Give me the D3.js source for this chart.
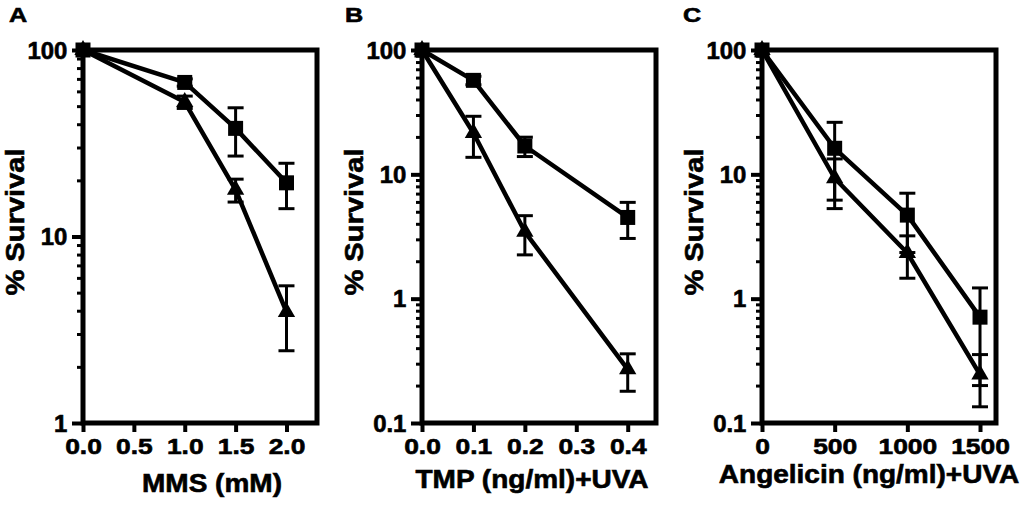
<!DOCTYPE html>
<html>
<head>
<meta charset="utf-8">
<script src="https://cdn.jsdelivr.net/npm/d3@7"></script>
<style>
  html, body { margin: 0; padding: 0; background: #fff; }
  svg { display: block; font-family: "Liberation Sans", Arial, Helvetica, sans-serif; font-weight: bold; }
  text { stroke: #000; stroke-width: 0.6px; fill: #000; }
</style>
</head>
<body>
<svg id="chart" width="1026" height="508"></svg>
<script>
// ---------- DATA ----------
const panelLetters = ["A", "B", "C"];
const xTitles = ["MMS (mM)", "TMP (ng/ml)+UVA", "Angelicin (ng/ml)+UVA"];
const yTitle = "% Survival";

// Panel A: MMS
const mmsDose = [0, 1.0, 1.5, 2.0];
const mmsSquare = [100, 67, 38, 19.4];
const mmsSquareSD = [0, 3, 11, 5.3];
const mmsTriangle = [100, 52.6, 17.8, 3.94];
const mmsTriangleSD = [0, 4, 2.5, 1.5];

// Panel B: TMP + UVA
const tmpDose = [0, 0.1, 0.2, 0.4];
const tmpSquare = [100, 57, 16.9, 4.5];
const tmpSquareSD = [0, 4.5, 3.0, 1.45];
const tmpTriangle = [100, 21.5, 3.45, 0.27];
const tmpTriangleSD = [0, 7.8, 1.2, 0.09];

// Panel C: Angelicin + UVA
const angDose = [0, 500, 1000, 1500];
const angSquare = [100, 16.2, 4.7, 0.71];
const angSquareSD = [0, 10, 2.35, 0.51];
const angTriangle = [100, 9.3, 2.33, 0.245];
const angTriangleSD = [0, 4, 0.87, 0.11];

// Tick labels
const mmsXTicks = [0, 0.5, 1.0, 1.5, 2.0];
const tmpXTicks = [0, 0.1, 0.2, 0.3, 0.4];
const angXTicks = [0, 500, 1000, 1500];
const yTicksA = [1, 10, 100];
const yTicksBC = [0.1, 1, 10, 100];

// ---------- LAYOUT ----------
const panels = [
  { letter: panelLetters[0], xTitle: xTitles[0], dose: mmsDose,
    sq: mmsSquare, sqSD: mmsSquareSD, tri: mmsTriangle, triSD: mmsTriangleSD,
    xTicks: mmsXTicks, xFmt: d3.format(".1f"), yTicks: yTicksA, yDomain: [1, 100],
    xDomain: [0, 2.3], left: 83, right: 317, letterX: 9, titleX: 212, titleY: 492 },
  { letter: panelLetters[1], xTitle: xTitles[1], dose: tmpDose,
    sq: tmpSquare, sqSD: tmpSquareSD, tri: tmpTriangle, triSD: tmpTriangleSD,
    xTicks: tmpXTicks, xFmt: d3.format(".1f"), yTicks: yTicksBC, yDomain: [0.1, 100],
    xDomain: [0, 0.455], left: 422, right: 656, letterX: 345, titleX: 532, titleY: 488 },
  { letter: panelLetters[2], xTitle: xTitles[2], dose: angDose,
    sq: angSquare, sqSD: angSquareSD, tri: angTriangle, triSD: angTriangleSD,
    xTicks: angXTicks, xFmt: d3.format("d"), yTicks: yTicksBC, yDomain: [0.1, 100],
    xDomain: [0, 1610], left: 762, right: 996, letterX: 683, titleX: 869, titleY: 483 }
];
const plotTop = 50, plotBottom = 423;

const svg = d3.select("#chart");
const yFmt = d => (d < 1 ? d3.format(".1f")(d) : d3.format("d")(d));
const FONT = "'Liberation Sans', Arial, sans-serif";

panels.forEach(p => {
  const g = svg.append("g");
  const x = d3.scaleLinear().domain(p.xDomain).range([p.left, p.right]);
  const y = d3.scaleLog().domain(p.yDomain).range([plotBottom, plotTop]);

  // minor log ticks
  const minors = [];
  for (let dec = p.yDomain[0]; dec < p.yDomain[1] - 1e-9; dec *= 10) {
    for (let k = 2; k <= 9; k++) minors.push(+(dec * k).toPrecision(3));
  }
  const minorAxis = g.append("g")
    .attr("transform", `translate(${p.left},0)`)
    .call(d3.axisLeft(y).tickValues(minors).tickSize(6).tickFormat(""));
  minorAxis.select(".domain").remove();
  minorAxis.selectAll(".tick line").attr("stroke", "#000").attr("stroke-width", 3);

  const yAxis = g.append("g")
    .attr("transform", `translate(${p.left},0)`)
    .call(d3.axisLeft(y).tickValues(p.yTicks).tickSize(11).tickPadding(4).tickFormat(yFmt));
  yAxis.select(".domain").remove();
  yAxis.selectAll(".tick line").attr("stroke", "#000").attr("stroke-width", 4);
  yAxis.selectAll(".tick text")
    .style("font-size", "23px")
    .style("font-weight", "bold")
    .style("font-family", FONT)
    .attr("dy", "0.36em")
    .attr("transform", "scale(1.04,1)");

  const xAxis = g.append("g")
    .attr("transform", `translate(0,${plotBottom})`)
    .call(d3.axisBottom(x).tickValues(p.xTicks).tickSize(9).tickPadding(6).tickFormat(p.xFmt));
  xAxis.select(".domain").remove();
  xAxis.selectAll(".tick line").attr("stroke", "#000").attr("stroke-width", 4);
  xAxis.selectAll(".tick text")
    .style("font-size", "22px")
    .style("font-weight", "bold")
    .style("font-family", FONT)
    .attr("transform", "scale(1.2,1)");

  // frame
  g.append("rect")
    .attr("x", p.left).attr("y", plotTop)
    .attr("width", p.right - p.left).attr("height", plotBottom - plotTop)
    .attr("fill", "none").attr("stroke", "#000").attr("stroke-width", 5);

  // lines
  const line = d3.line().x((d, i) => x(p.dose[i])).y(d => y(d));
  [p.sq, p.tri].forEach(vals => {
    g.append("path").datum(vals)
      .attr("d", line)
      .attr("fill", "none").attr("stroke", "#000").attr("stroke-width", 4.5)
      .attr("stroke-linejoin", "round");
  });

  // error bars
  const cap = 8;
  [[p.sq, p.sqSD], [p.tri, p.triSD]].forEach(([vals, sds]) => {
    vals.forEach((v, i) => {
      if (!sds[i]) return;
      const cx = x(p.dose[i]);
      const yHi = y(v + sds[i]);
      const yLo = y(Math.max(v - sds[i], p.yDomain[0]));
      g.append("line").attr("x1", cx).attr("x2", cx).attr("y1", yHi).attr("y2", yLo)
        .attr("stroke", "#000").attr("stroke-width", 3);
      [yHi, yLo].forEach(yy => {
        g.append("line").attr("x1", cx - cap).attr("x2", cx + cap).attr("y1", yy).attr("y2", yy)
          .attr("stroke", "#000").attr("stroke-width", 3);
      });
    });
  });

  // markers
  const sqSym = d3.symbol().type(d3.symbolSquare).size(15 * 15);
  const triSym = d3.symbol().type(d3.symbolTriangle).size(130);
  p.tri.forEach((v, i) => {
    g.append("path").attr("d", triSym())
      .attr("transform", `translate(${x(p.dose[i])},${y(v)})`).attr("fill", "#000");
  });
  p.sq.forEach((v, i) => {
    g.append("path").attr("d", sqSym())
      .attr("transform", `translate(${x(p.dose[i])},${y(v)})`).attr("fill", "#000");
  });

  // titles
  g.append("text")
    .attr("transform", `translate(${p.titleX},${p.titleY}) scale(1.12,1)`)
    .attr("text-anchor", "middle")
    .style("font-size", "25px")
    .text(p.xTitle);

  g.append("text")
    .attr("transform", `translate(${p.left - 59},222) rotate(-90) scale(1.12,1)`)
    .attr("text-anchor", "middle")
    .style("font-size", "26px")
    .text(yTitle);

  g.append("text")
    .attr("transform", `translate(${p.letterX},22) scale(1.2,1)`)
    .style("font-size", "21px")
    .text(p.letter);
});
</script>
</body>
</html>
